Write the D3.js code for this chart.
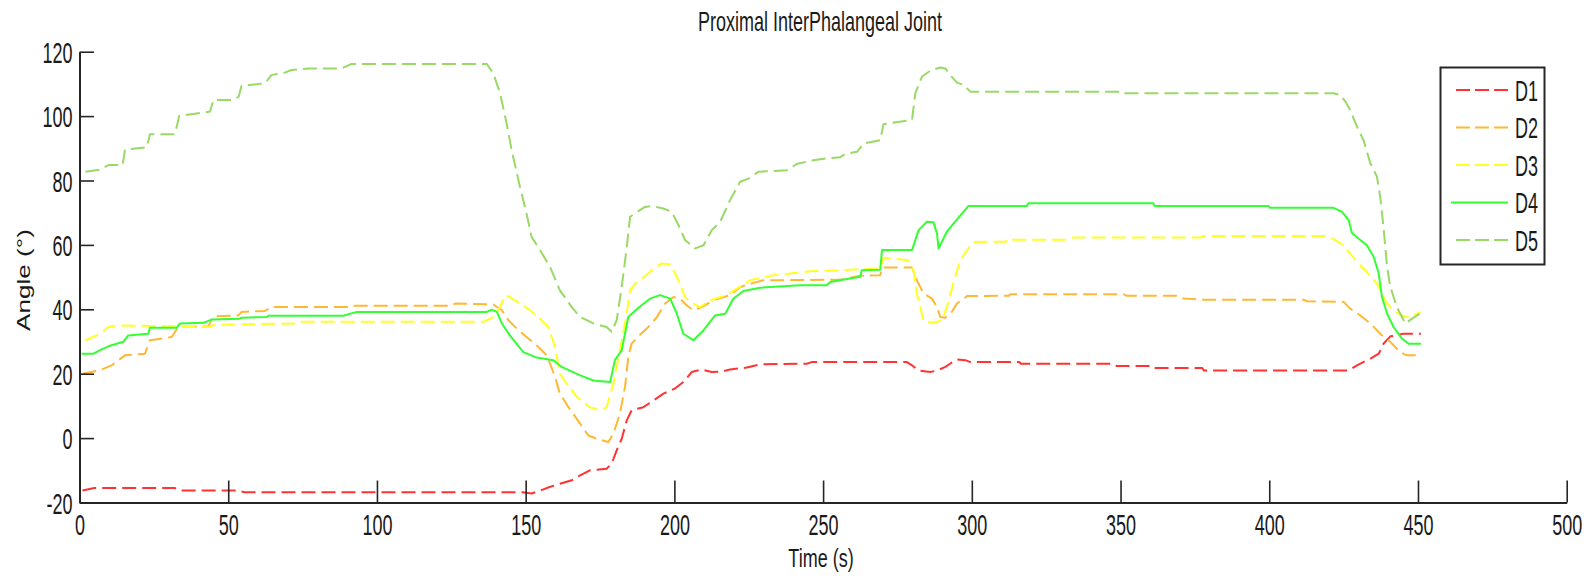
<!DOCTYPE html>
<html>
<head>
<meta charset="utf-8">
<script src="https://cdn.jsdelivr.net/npm/d3@7"></script>
<style>
  html, body { margin: 0; padding: 0; background: #fff; }
  svg { display: block; }
  text { font-family: "Liberation Sans", Arial, sans-serif; fill: #1a1a1a; }
</style>
</head>
<body>
<svg id="chart" width="1595" height="584"></svg>
<script>
// ---- data (time in s, angle in degrees) ----
const seriesNames = ["D1", "D2", "D3", "D4", "D5"];
const xTicks = [0, 50, 100, 150, 200, 250, 300, 350, 400, 450, 500];
const yTicks = [-20, 0, 20, 40, 60, 80, 100, 120];

const d1 = [[1,-16.3],[5,-15.5],[32,-15.5],[34,-16.3],[53,-16.3],[55.5,-16.8],[149,-16.8],[152,-17.2],[155,-16.3],[158,-15.2],[161.5,-14.2],[165.5,-13.1],[168.3,-11.6],[171.6,-10],[177.2,-9.5],[178.9,-8],[180.6,-3.8],[182.3,-0.2],[184,5.5],[185.6,8.6],[187.5,9.1],[189.6,9.6],[193,11.7],[196.3,13.8],[200.2,15.4],[203,17.4],[205.8,20.5],[209.2,21.3],[212.6,20.5],[216,20.7],[218.7,21.3],[224.3,21.9],[228.8,22.9],[244.5,23.1],[246.2,23.6],[278.2,23.6],[279.9,22.6],[282.1,21],[286,20.5],[288.3,21],[291.1,22.1],[292.7,23.1],[295,24.4],[297.8,24.2],[299.5,23.6],[316,23.6],[316.5,23.1],[347.6,23.1],[348.7,22.4],[360.5,22.4],[361,21.8],[377.5,21.8],[378,21],[426.7,21],[429.5,22.6],[434,24.7],[436.8,26.2],[438.4,29.3],[440.7,31.6],[442.9,31.9],[445,32.4],[451,32.4]];

const d2 = [[1,20],[6.9,21.1],[10.8,22.6],[15.3,25.7],[22,26.2],[23.7,30.4],[31,31.4],[33.2,34.5],[43.3,34.7],[45,37.8],[53.4,38.1],[54.5,39.2],[62.4,39.5],[64.6,40.7],[90.4,40.7],[91.5,41.1],[125.1,41.1],[126.3,41.8],[139.1,41.5],[142,39.7],[144.2,36.6],[147,34],[150.3,31.4],[153.7,28.8],[157.1,25.7],[159.9,19],[161.5,13.8],[164.4,9.6],[168.3,4.5],[171.1,0.8],[173.9,-0.2],[177.8,-1.2],[179.5,1.4],[181.7,7.6],[183.4,15.9],[184.5,25.2],[185.6,29.3],[187.9,31.6],[191.8,35],[194.1,37.6],[196.9,41.8],[199.7,43.8],[201.9,43.3],[204.2,41.2],[206.4,39.7],[209.2,40.7],[213.1,42.8],[218.7,44.4],[222.1,46.9],[226.6,48.2],[229.9,49],[255.7,49.2],[262.5,50.4],[269.2,50.6],[269.8,53],[279.9,53],[281.5,49],[283.8,44.9],[286.6,43.3],[288.3,40.7],[289.4,37.6],[291.1,37.4],[293.3,39.2],[295,41.8],[298.4,44.1],[312.5,44.2],[313,44.7],[351,44.7],[352.1,44.2],[368.9,44.2],[370.6,43.4],[377.9,43],[411.5,43],[412.7,42.5],[425,42.3],[427.2,40.2],[430.6,38.1],[434,35.6],[437.3,32.4],[440.7,29.9],[444,26.7],[446.3,25.7],[451,25.7]];

const d3s = [[2,30.4],[6.9,32.4],[9.7,34.5],[13.1,35],[32.1,34.7],[35.5,34.5],[43.3,34.5],[45.6,35.2],[72.5,35.6],[73.6,36.1],[135.8,36.1],[139.1,37.6],[141.4,40.7],[143.1,44.3],[144.7,43.8],[148.1,41.8],[151.5,39.7],[154.8,37.1],[157.6,34.5],[159.9,28.3],[161.5,20],[163.8,16.9],[167.2,12.8],[171.6,9.6],[175,8.6],[177.2,9.6],[179.5,16.9],[181.7,27.3],[184,38.7],[185.1,45.9],[186.8,48],[189.6,49.9],[193,52.6],[195.7,54.2],[198.6,54],[201.4,49],[203.6,43.8],[205.3,42.3],[208.6,40.7],[212,42.8],[217.6,44.4],[221,46.4],[225.5,49],[232.2,50.4],[245.6,51.8],[255.7,52.1],[263.6,52.5],[269.2,52.7],[270.3,56],[274.8,55.6],[278.7,55.2],[280.4,52.1],[281.5,44.9],[282.7,40.7],[283.8,36.1],[287.1,35.8],[290,36.6],[291.6,40.7],[294.4,50.1],[296.1,55.2],[298.4,58.4],[300.6,60.9],[311.5,61],[311.7,61.6],[331.9,61.6],[334.2,62.3],[376.7,62.3],[377.9,62.8],[419.4,62.8],[422.2,61.5],[424.4,60.2],[427.2,57.3],[430,54.2],[432.8,51.6],[436.2,48],[439.6,41.8],[442.4,39.2],[445.2,37.8],[447.4,37.6],[450.8,39.2]];

const d4 = [[0.7,26.2],[4.7,26.2],[6.9,27.3],[9.7,28.5],[14.7,29.9],[16.4,31.9],[23.1,32.4],[23.7,34.3],[32.7,34.3],[33.8,35.6],[41.6,35.8],[44.4,36.8],[54,37.1],[54.5,37.4],[63,37.6],[63.5,38.0],[88.7,38.0],[93.2,39.2],[136.9,39.2],[138.6,39.9],[140.3,39.2],[142,35.6],[144.7,31.9],[149.2,26.7],[153.7,25],[159.3,24.2],[162.1,22.1],[168.3,19.5],[172.8,17.9],[178.4,17.4],[180,24.2],[182.3,27.3],[184.5,37.6],[187.9,40.5],[191.8,43.3],[195.2,44.4],[198.6,43.3],[200.8,38.7],[203,32.4],[206.4,30.4],[209.8,33.5],[213.7,38.1],[217.1,38.6],[219.8,43.3],[223.2,45.7],[228.8,46.7],[242.3,47.5],[251.2,47.5],[252.4,48.5],[255.7,49],[262.5,50.1],[263,52.1],[269.2,52.3],[269.8,58.4],[279.9,58.4],[282.1,64.6],[284.9,67.2],[287.1,67],[288.3,63.5],[288.8,58.9],[291.6,64.1],[294.4,67.2],[296.7,69.7],[298.9,72.1],[318.5,72.1],[319,72.9],[361,72.9],[361.5,72.1],[399.7,72.1],[400.2,71.5],[421.6,71.5],[424.4,70.3],[426.7,67.7],[427.8,63.7],[430,62],[432.8,59.9],[435.1,56.3],[436.8,51.1],[437.9,43.8],[439.6,38.7],[441.8,34.5],[444.6,30.9],[446.9,29.3],[451,29.3]];

const d5 = [[2,82.7],[6.9,83.4],[9.7,84.8],[14.5,84.8],[15.3,89.6],[22.6,90.3],[23.7,94.4],[32.1,94.4],[33.5,100],[43.9,101.4],[45,105],[51.2,105],[53.5,106],[54.5,109.4],[62.4,110.2],[64.6,112.8],[68.5,113.3],[71.3,114.3],[77,114.8],[88,114.8],[91.5,116.2],[136.9,116.2],[139.1,113.3],[141.4,107.1],[143.6,97.7],[145.3,89.4],[148.1,78],[150.3,69.7],[152,62.5],[154.8,58.4],[158.2,53.2],[161.5,45.9],[165.5,40.7],[168.3,37.6],[172.8,35.6],[177.2,34.5],[178.9,33],[180.6,36.6],[182.3,47],[184,59.4],[185.1,68.7],[186.8,69.8],[190.1,71.8],[192.4,72.1],[196.3,71.3],[199.1,70.3],[201.4,66.1],[203.6,61.5],[207,58.9],[209.8,59.9],[212.6,64.6],[215.4,67.2],[218.7,73.9],[222.1,79.6],[224.9,80.6],[228.2,82.7],[237.8,83.2],[241.1,85.1],[245.6,86.1],[251.2,86.9],[255.7,87.2],[257.4,88.2],[261.4,88.9],[263.6,91.5],[269.2,92.5],[270.3,97.5],[279.9,98.8],[281,107.1],[283.2,112.2],[286,114.1],[289.4,115.1],[291.1,114.8],[292.7,112.8],[295,110.4],[297.2,109.7],[299.5,107.6],[351,107.6],[351.5,107.1],[421.6,107.1],[423.9,106.5],[425.6,104.5],[427.2,101.9],[429.5,96.7],[431.7,92.5],[434,85.3],[436.2,81.2],[437.3,74.9],[438.4,65.6],[439.6,53.2],[440.7,47],[442.9,40.7],[445.7,35.6],[448,37.1],[450.8,38.7]];

const seriesData = [d1, d2, d3s, d4, d5];
const seriesColors = ["#ff3333", "#ffb833", "#ffff22", "#33ff33", "#99d966"];
const seriesDashed = [true, true, true, false, true];

// ---- chart ----
const svg = d3.select("#chart");
svg.append("rect").attr("width", 1595).attr("height", 584).attr("fill", "#fff");

const x = d3.scaleLinear().domain([0, 500]).range([79.5, 1566.7]);
const y = d3.scaleLinear().domain([-20, 120]).range([502.5, 51.7]);
const axisColor = "#262626";
const plainFormat = d => String(d);

// lines
const line = d3.line().x(d => x(d[0])).y(d => y(d[1]));
const lines = svg.append("g");
seriesData.forEach((data, i) => {
  lines.append("path")
    .attr("d", line(data))
    .attr("fill", "none")
    .attr("stroke", seriesColors[i])
    .attr("stroke-width", 2)
    .attr("stroke-dasharray", seriesDashed[i] ? "14,6" : null)
    .attr("stroke-linejoin", "round");
});

// x axis
const gx = svg.append("g")
  .attr("transform", `translate(0,${y(-20)})`)
  .call(d3.axisBottom(x).tickValues(xTicks).tickSizeInner(-22).tickSizeOuter(0).tickFormat(plainFormat));
gx.select(".domain").attr("stroke", axisColor).attr("stroke-width", 2);
gx.selectAll(".tick line").attr("stroke", axisColor).attr("stroke-width", 1.6);
gx.selectAll(".tick text")
  .attr("y", null).attr("dy", null)
  .attr("transform", `translate(0,${535 - y(-20)}) scale(1,1.6)`)
  .style("font-size", "18px").style("fill", "#1a1a1a");

// y axis
const gy = svg.append("g")
  .attr("transform", `translate(${x(0)},0)`)
  .call(d3.axisLeft(y).tickValues(yTicks).tickSizeInner(-14.5).tickSizeOuter(0).tickFormat(plainFormat));
gy.select(".domain").attr("stroke", axisColor).attr("stroke-width", 2);
gy.selectAll(".tick line").attr("stroke", axisColor).attr("stroke-width", 1.6);
gy.selectAll(".tick text")
  .attr("x", null).attr("dy", null)
  .attr("transform", "translate(-7,10.5) scale(1,1.6)")
  .style("font-size", "18px").style("fill", "#1a1a1a");
svg.selectAll("g").attr("font-family", null).attr("font-size", null);

// title and axis labels
svg.append("text")
  .attr("transform", "translate(820,31) scale(1,1.5)")
  .attr("text-anchor", "middle").style("font-size", "18px")
  .text("Proximal InterPhalangeal Joint");
svg.append("text")
  .attr("transform", "translate(821,567) scale(1,1.45)")
  .attr("text-anchor", "middle").style("font-size", "18px")
  .text("Time (s)");
svg.append("text")
  .attr("transform", "translate(30,280) rotate(-90) scale(1.45,1)")
  .attr("text-anchor", "middle").style("font-size", "18px")
  .text("Angle (°)");

// legend
const lg = svg.append("g");
lg.append("rect")
  .attr("x", 1440.5).attr("y", 67.5).attr("width", 104).attr("height", 197)
  .attr("fill", "#fff").attr("stroke", axisColor).attr("stroke-width", 2);
const ly = d3.scaleLinear().domain([0, 4]).range([90, 240]);
seriesNames.forEach((name, i) => {
  lg.append("line")
    .attr("x1", seriesDashed[i] ? 1456 : 1451).attr("x2", 1508)
    .attr("y1", ly(i)).attr("y2", ly(i))
    .attr("stroke", seriesColors[i]).attr("stroke-width", 2)
    .attr("stroke-dasharray", seriesDashed[i] ? "14,5" : null);
  lg.append("text")
    .attr("transform", `translate(1515,${ly(i) + 10.5}) scale(1,1.6)`)
    .style("font-size", "18px")
    .text(name);
});
</script>
</body>
</html>
